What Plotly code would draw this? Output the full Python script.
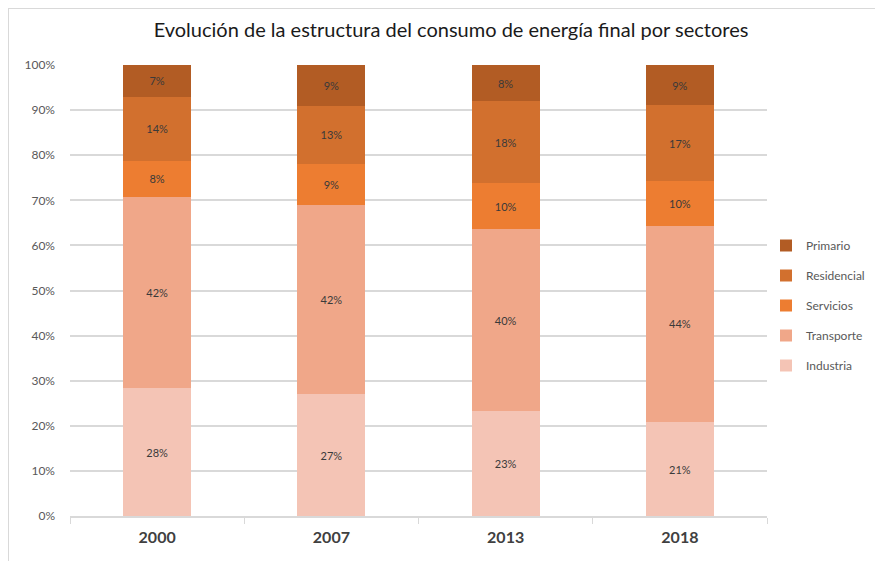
import plotly.graph_objects as go

years = ["2000", "2007", "2013", "2018"]
sectors = ["Industria", "Transporte", "Servicios", "Residencial", "Primario"]
industria = [28, 27, 23, 21]
transporte = [42, 42, 40, 44]
servicios = [8, 9, 10, 10]
residencial = [14, 13, 18, 17]
primario = [7, 9, 8, 9]
series = [industria, transporte, servicios, residencial, primario]
colors = ["#F4C4B5", "#F0A789", "#ED7D31", "#D2702E", "#B25C24"]
y_ticks = [0, 10, 20, 30, 40, 50, 60, 70, 80, 90, 100]

OFF = 8  # page body margin
W, H = 883 - OFF, 561 - OFF
L, R, T, B = 70 - OFF, 883 - 767, 65 - OFF, 561 - 516
pw, ph = W - L - R, H - T - B

fig = go.Figure()
n = len(sectors)
for i, (name, vals, col) in enumerate(zip(sectors, series, colors)):
    fig.add_trace(go.Bar(
        x=years, y=vals, name=name,
        marker=dict(color=col, line=dict(width=0)),
        text=[f"{v}%" for v in vals],
        textposition="inside", insidetextanchor="middle",
        textfont=dict(family="Lato, sans-serif", size=11, color="#3a3a3a"),
        legendgroup=name,
        legendrank=1000 + (n - i),
        hoverinfo="skip",
    ))

def px_x(p):
    return (p - OFF - L) / pw

def px_y(p):
    return (H - B - (p - OFF)) / ph

fig.update_layout(
    width=W, height=H,
    margin=dict(l=L, r=R, t=T, b=B, autoexpand=False),
    barmode="stack", barnorm="percent", bargap=0.61,
    plot_bgcolor="white", paper_bgcolor="white",
    title=dict(text="Evolución de la estructura del consumo de energía final por sectores",
               x=(451 - OFF) / W, xanchor="center", y=1 - (30 - OFF) / H, yanchor="middle",
               font=dict(family="Lato, sans-serif", size=20, color="#1a1a1a")),
    legend=dict(x=px_x(766), y=px_y(231), xanchor="left", yanchor="top",
                traceorder="grouped", tracegroupgap=11,
                font=dict(family="Lato, sans-serif", size=12, color="#595959"),
                itemwidth=30, bgcolor="rgba(0,0,0,0)"),
    uniformtext=dict(minsize=8, mode="show"),
    showlegend=True,
    shapes=[
        dict(type="line", xref="paper", yref="paper", x0=px_x(8), x1=px_x(900),
             y0=px_y(8), y1=px_y(8), line=dict(color="#d9d9d9", width=2)),
        dict(type="line", xref="paper", yref="paper", x0=px_x(8), x1=px_x(8),
             y0=px_y(8), y1=px_y(580), line=dict(color="#d9d9d9", width=2)),
    ],
)
fig.update_xaxes(
    type="category", showline=True, linecolor="#d9d9d9", linewidth=1.5,
    ticks="outside", tickson="boundaries", ticklen=6, tickcolor="#d9d9d9",
    tickfont=dict(family="Lato, sans-serif", size=16, color="#404040", weight="bold"),
    ticklabelstandoff=6, showgrid=False,
)
fig.update_yaxes(
    range=[0, 100], tickvals=y_ticks, ticktext=[f"{v}%" for v in y_ticks],
    showgrid=True, gridcolor="#d9d9d9", gridwidth=1.5, zeroline=False, showline=False,
    tickfont=dict(family="Lato, sans-serif", size=12, color="#595959"),
    ticklabelstandoff=14,
)
fig.write_html("out.html")
